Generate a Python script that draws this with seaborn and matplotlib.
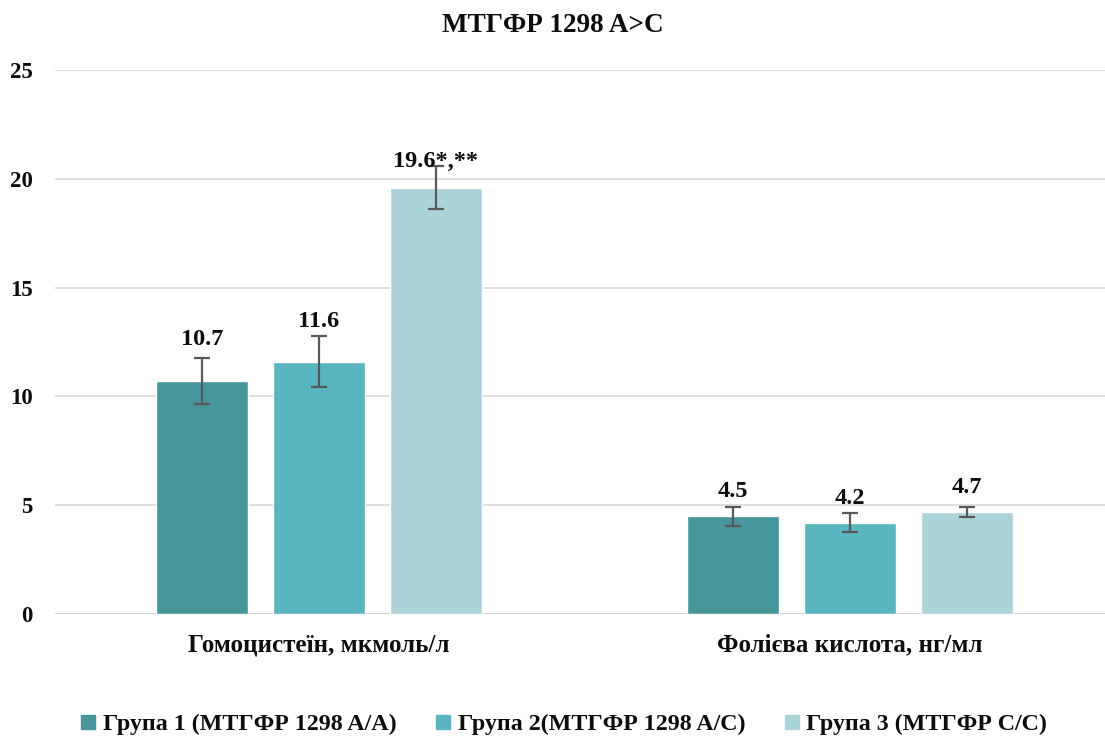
import matplotlib
matplotlib.use("Agg")
import matplotlib.pyplot as plt
import seaborn as sns
import pandas as pd
from matplotlib.lines import Line2D

categories = ["Гомоцистеїн, мкмоль/л", "Фолієва кислота, нг/мл"]
groups = ["Група 1 (МТГФР 1298 A/A)", "Група 2(МТГФР 1298 A/C)", "Група 3 (МТГФР C/C)"]
group1 = [10.7, 4.5]
group2 = [11.6, 4.2]
group3 = [19.6, 4.7]
err1 = [1.05, 0.44]
err2 = [1.17, 0.43]
err3 = [1.0, 0.23]
value_labels1 = ["10.7", "4.5"]
value_labels2 = ["11.6", "4.2"]
value_labels3 = ["19.6*,**", "4.7"]
title = "МТГФР 1298 A>C"
yticks = [0, 5, 10, 15, 20, 25]

colors = ["#47969B", "#59B5C0", "#ADD3DA"]
text_color = "#0D0D0D"

rows = []
for g, vals, errs, labs in zip(groups, [group1, group2, group3],
                               [err1, err2, err3],
                               [value_labels1, value_labels2, value_labels3]):
    for c, v, e, l in zip(categories, vals, errs, labs):
        rows.append({"category": c, "group": g, "value": v, "err": e, "label": l})
df = pd.DataFrame(rows)

sns.set_theme(style="white")
plt.rcParams["font.family"] = ["Liberation Serif", "DejaVu Serif"]
plt.rcParams["font.weight"] = "bold"
plt.rcParams["text.color"] = text_color
plt.rcParams["xtick.color"] = text_color
plt.rcParams["ytick.color"] = text_color

fig = plt.figure(figsize=(11.05, 7.38), dpi=100)
ax = fig.add_axes([55 / 1105, 124 / 738, 1050 / 1105, 544 / 738])

sns.barplot(data=df, x="category", y="value", hue="group", order=categories,
            hue_order=groups, palette=colors, width=0.66, gap=0.21,
            errorbar=None, legend=False, ax=ax, zorder=3, saturation=1)

# error bars and value labels at the bar centres
label_offsets = {(0, 0): 30, (0, 1): 29, (0, 2): 19}
for gi, (container, g) in enumerate(zip(ax.containers, groups)):
    sub = df[df["group"] == g].set_index("category").loc[categories]
    for ci, (bar, (_, r)) in enumerate(zip(container, sub.iterrows())):
        xc = bar.get_x() + bar.get_width() / 2
        ax.errorbar(xc, r["value"], yerr=r["err"], fmt="none", ecolor="#595959",
                    elinewidth=1.6, capsize=6, capthick=1.6, zorder=4)
        off = label_offsets.get((ci, gi), 17.5)
        ax.annotate(r["label"], (xc, r["value"]), xytext=(0, off),
                    textcoords="offset points", ha="center", va="center",
                    fontsize=17.5, fontweight="bold", color=text_color, zorder=5)

ax.set_ylim(0, 25)
ax.set_xlim(-0.497, 1.48)
ax.set_yticks(yticks)
ax.set_yticklabels([str(t) for t in yticks], fontsize=16.5, fontweight="bold")
ax.tick_params(axis="y", pad=16, length=0, labelcolor=text_color)
ax.tick_params(axis="x", length=0, pad=14, labelsize=18, labelcolor=text_color)
for t in ax.get_xticklabels():
    t.set_fontweight("bold")
ax.set_xlabel("")
ax.set_ylabel("")
ax.grid(axis="y", color="#D9D9D9", linewidth=1.2, zorder=0)
for s in ax.spines.values():
    s.set_visible(False)
ax.axhline(0, color="#D0D0D0", linewidth=2, zorder=2)

fig.text(0.5, 1 - 25 / 738, title, ha="center", va="center",
         fontsize=19.5, fontweight="bold", color=text_color)

handles = [Line2D([0], [0], marker="s", linestyle="none", markersize=10,
                  markerfacecolor=c, markeredgecolor=c) for c in colors]
leg = fig.legend(handles, groups, loc="center", bbox_to_anchor=(0.51, 1 - 724 / 738),
                 ncol=3, frameon=False, handlelength=0.7, handletextpad=0.25,
                 columnspacing=1.6, prop={"weight": "bold", "size": 17.3})
for t in leg.get_texts():
    t.set_color(text_color)

fig.savefig("out.png", dpi=100, facecolor="white")
